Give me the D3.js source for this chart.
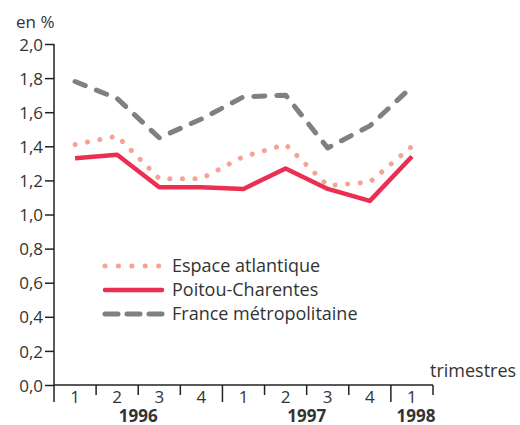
<!DOCTYPE html>
<html><head><meta charset="utf-8">
<script src="https://cdn.jsdelivr.net/npm/d3@7"></script>
<style>body{margin:0;background:#fff}svg{display:block}text{font-family:"Open Sans",sans-serif;fill:#333}</style>
</head><body>
<svg id="c" width="520" height="425"></svg>
<script>
const quarters = ["1","2","3","4","1","2","3","4","1"];
const years = [{label:"1996", from:0, to:4},{label:"1997", from:4, to:8},{label:"1998", from:8, to:9}];
const espace = [1.41,1.46,1.21,1.21,1.34,1.41,1.17,1.19,1.40];
const poitou = [1.33,1.35,1.16,1.16,1.15,1.27,1.15,1.08,1.34];
const france = [1.78,1.68,1.45,1.56,1.69,1.70,1.39,1.52,1.75];
const yTicks = [0,0.2,0.4,0.6,0.8,1.0,1.2,1.4,1.6,1.8,2.0];
const seriesNames = ["Espace atlantique","Poitou-Charentes","France métropolitaine"];

const svg = d3.select("#c");
const x0 = 54, x1 = 433;
const x = d3.scaleLinear().domain([0, 9]).range([x0, x1]);
const y = d3.scaleLinear().domain([0, 2]).range([385, 44]);
const fmt = v => d3.format(".1f")(v).replace(".", ",");

// y axis
const ya = svg.append("g").attr("transform", `translate(${x0},0)`)
  .call(d3.axisLeft(y).tickValues(yTicks).tickFormat(fmt).tickSize(9).tickPadding(2));
ya.select(".domain").remove();
ya.selectAll("line").attr("stroke","#222").attr("stroke-width",1.5);
ya.selectAll("text").style("font-size","17px").attr("fill","#333").attr("dy","0.36em");
svg.append("line").attr("x1",x0).attr("x2",x0).attr("y1",y(2)).attr("y2",402).attr("stroke","#222").attr("stroke-width",1.5);
svg.append("text").attr("x",16).attr("y",28).style("font-size","17px").text("en %");

// x axis
svg.append("line").attr("x1",x0).attr("x2",x1).attr("y1",385).attr("y2",385).attr("stroke","#222").attr("stroke-width",1.5);
const bounds = d3.range(1, 10);
const majors = new Set([4, 8]);
svg.selectAll(".xt").data(bounds).join("line")
  .attr("x1", d => x(d)).attr("x2", d => x(d))
  .attr("y1", 385).attr("y2", d => majors.has(d) ? 402 : 395)
  .attr("stroke","#222").attr("stroke-width",1.5);
svg.selectAll(".ql").data(quarters).join("text")
  .attr("x", (d,i) => x(i + 0.5)).attr("y", 403).attr("text-anchor","middle")
  .style("font-size","17px").text(d => d);
svg.selectAll(".yl").data(years).join("text")
  .attr("x", d => d.to - d.from === 1 ? x(d.from + 0.5) + 4 : x((d.from + d.to) / 2)).attr("y", 422).attr("text-anchor","middle")
  .style("font-size","17px").style("font-weight","bold").text(d => d.label);
svg.append("text").attr("x",430).attr("y",377).style("font-size","18px").text("trimestres");

// lines
const line = d3.line().x((d,i) => x(i + 0.5)).y(d => y(d));
const styles = [
  {data: espace, color:"#f6a394", width:5, dash:"0.1 12.5", cap:"round"},
  {data: poitou, color:"#ea2f50", width:4.5, dash:null, cap:"butt"},
  {data: france, color:"#808080", width:5, dash:"11 12", cap:"round"}
];
[2,0,1].forEach(k => {
  const s = styles[k];
  svg.append("path").datum(s.data).attr("d", line).attr("fill","none")
    .attr("stroke", s.color).attr("stroke-width", s.width)
    .attr("stroke-dasharray", s.dash).attr("stroke-linecap", s.cap).attr("stroke-linejoin","round");
});

// legend
const leg = svg.append("g");
seriesNames.forEach((n, i) => {
  const s = styles[i];
  const ly = 266 + i * 24;
  leg.append("line").attr("x1", 105).attr("x2", 162).attr("y1", ly).attr("y2", ly)
    .attr("stroke", s.color).attr("stroke-width", s.width)
    .attr("stroke-dasharray", i === 0 ? "0.1 13.3" : (i === 2 ? "13 9" : null))
    .attr("stroke-linecap", "round");
  leg.append("text").attr("x", 172).attr("y", ly + 6).style("font-size","18px").text(n);
});
</script>
</body></html>
